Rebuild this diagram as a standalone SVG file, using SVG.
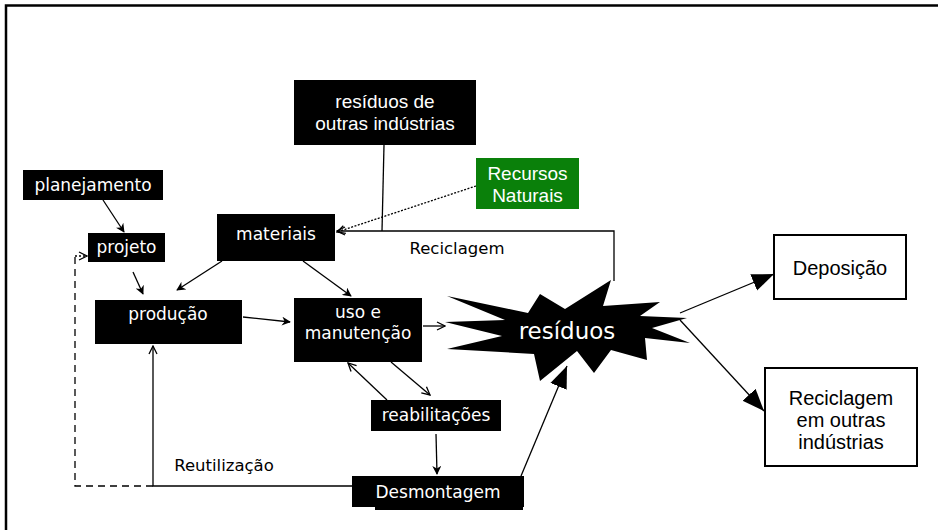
<svg xmlns="http://www.w3.org/2000/svg" width="938" height="530" viewBox="0 0 938 530">
<defs>
<style>
.bk{fill:#000}
.wb{fill:#fff;stroke:#000;stroke-width:2}
.tw{fill:#fff;font-family:"DejaVu Sans",Verdana,sans-serif;font-size:17px;text-anchor:middle}
.ta{fill:#fff;font-family:"Liberation Sans",Arial,sans-serif;font-size:19px;text-anchor:middle}
.tb{fill:#000;font-family:"Liberation Sans",Arial,sans-serif;font-size:20px;text-anchor:middle}
.lb{fill:#000;font-family:"DejaVu Sans",Verdana,sans-serif;font-size:16.5px;text-anchor:middle}
.ln{fill:none;stroke:#000;stroke-width:1.3}
</style>
<marker id="a" viewBox="0 0 10 10" refX="9" refY="5" markerWidth="9" markerHeight="9" orient="auto" markerUnits="userSpaceOnUse"><path d="M0,0 L10,5 L0,10 L3,5 Z" fill="#000"/></marker>
<marker id="o" viewBox="0 0 10 10" refX="9" refY="5" markerWidth="10" markerHeight="10" orient="auto" markerUnits="userSpaceOnUse"><path d="M1,1 L9,5 L1,9" fill="none" stroke="#000" stroke-width="1.3"/></marker>
<marker id="f" viewBox="0 0 10 10" refX="10" refY="5" markerWidth="22" markerHeight="22" orient="auto" markerUnits="userSpaceOnUse"><path d="M0,1 L10,5 L0,9 Z" fill="#000"/></marker>
</defs>
<rect x="0" y="0" width="938" height="530" fill="#fff"/>
<path d="M6,530 V5.5 H938" fill="none" stroke="#000" stroke-width="2.5"/>

<g id="connectors">
<line class="ln" x1="103" y1="200" x2="124" y2="232" marker-end="url(#a)"/>
<line class="ln" x1="133" y1="272" x2="143" y2="294" marker-end="url(#a)"/>
<line class="ln" x1="222" y1="261" x2="177" y2="290" marker-end="url(#a)"/>
<line class="ln" x1="303" y1="261" x2="351" y2="296" marker-end="url(#a)"/>
<line class="ln" x1="243" y1="317" x2="290" y2="322" marker-end="url(#a)"/>
<line class="ln" x1="423" y1="326" x2="445" y2="326" marker-end="url(#o)"/>
<line class="ln" x1="387" y1="400" x2="348" y2="363" marker-end="url(#o)"/>
<line class="ln" x1="391" y1="362" x2="430" y2="395" marker-end="url(#o)"/>
<line class="ln" x1="436" y1="434" x2="437" y2="474" marker-end="url(#a)"/>
<line class="ln" x1="521" y1="476" x2="567" y2="366" marker-end="url(#f)"/>
<polyline class="ln" points="352,486 153,486 153,346" marker-end="url(#o)"/>
<polyline class="ln" points="153,486 75,486 75,256" stroke-dasharray="7,5"/>
<line class="ln" x1="75" y1="256" x2="87" y2="256" stroke-dasharray="2,2" marker-end="url(#o)"/>
<line class="ln" x1="384" y1="145" x2="382" y2="231"/>
<polyline class="ln" points="614,281 614,231 337,231" marker-end="url(#o)"/>
<line class="ln" x1="476" y1="186" x2="337" y2="232" stroke-dasharray="2,1.5" stroke-width="1.8" marker-end="url(#o)"/>
<line class="ln" x1="680" y1="313" x2="774" y2="274" marker-end="url(#f)"/>
<line class="ln" x1="680" y1="320" x2="764" y2="411" marker-end="url(#f)"/>
<text class="lb" x="457" y="254">Reciclagem</text>
<text class="lb" x="224" y="471">Reutilização</text>
</g>

<g id="residuos-outras"><rect class="bk" x="294" y="80" width="182" height="65"/><text class="ta" x="385" y="108">resíduos de</text><text class="ta" x="385" y="130">outras indústrias</text></g>
<g id="recursos"><rect x="476" y="158" width="103" height="51" fill="#0a800a"/><text class="ta" x="527.5" y="180">Recursos</text><text class="ta" x="527.5" y="202">Naturais</text></g>
<g id="planejamento"><rect class="bk" x="23" y="170" width="140" height="30"/><text class="tw" x="93" y="191">planejamento</text></g>
<g id="projeto"><rect class="bk" x="88" y="233" width="77" height="29"/><text class="tw" x="126.5" y="253">projeto</text></g>
<g id="materiais"><rect class="bk" x="217" y="214" width="118" height="47"/><text class="tw" x="276" y="240">materiais</text></g>
<g id="producao"><rect class="bk" x="95" y="300" width="147" height="44"/><text class="tw" x="168" y="320">produção</text></g>
<g id="uso"><rect class="bk" x="294" y="298" width="128" height="64"/><text class="tw" x="358" y="318">uso e</text><text class="tw" x="358" y="339">manutenção</text></g>
<g id="residuos"><polygon class="bk" points="447,296 528,313 540,294 565,309 611,280 603,306 660,302 640,316 687,318 652,328 690,343 645,338 647,360 611,350 594,373 577,351 540,381 534,354 447,349 502,336 445,322 505,320"/><text x="567" y="339" fill="#fff" font-family="DejaVu Sans,Verdana,sans-serif" font-size="23" text-anchor="middle">resíduos</text></g>
<g id="reabilitacoes"><rect class="bk" x="371" y="400" width="130" height="31"/><text class="tw" x="436" y="421">reabilitações</text></g>
<g id="desmontagem"><rect class="bk" x="352" y="476" width="172" height="31"/><rect class="bk" x="375" y="506" width="148" height="4"/><text class="tw" x="438" y="498">Desmontagem</text></g>
<g id="deposicao"><rect class="wb" x="774" y="235" width="132" height="64"/><text class="tb" x="840" y="275">Deposição</text></g>
<g id="reciclagem-outras"><rect class="wb" x="765" y="368" width="152" height="98"/><text class="tb" x="841" y="405">Reciclagem</text><text class="tb" x="841" y="427">em outras</text><text class="tb" x="841" y="449">indústrias</text></g>
</svg>
